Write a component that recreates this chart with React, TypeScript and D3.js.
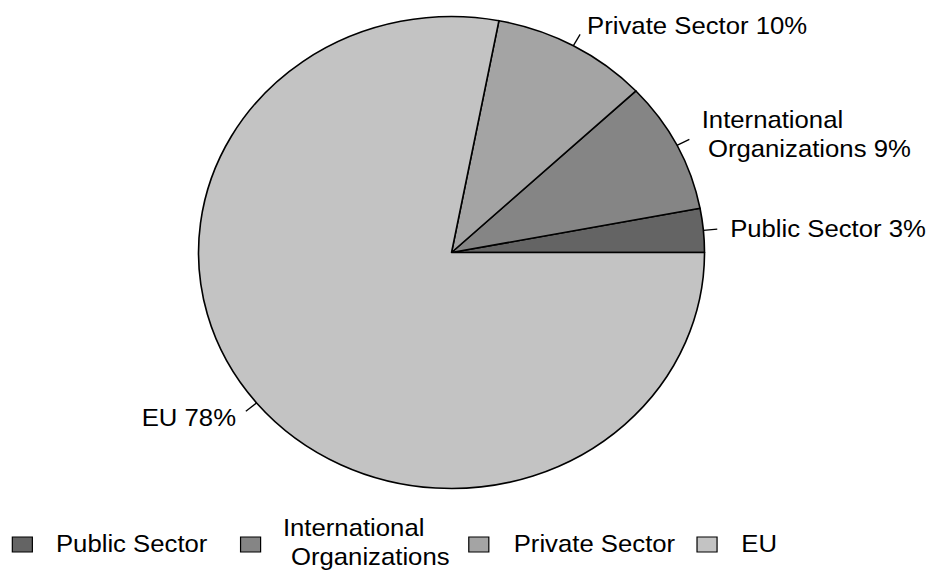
import React from "react";
import * as d3 from "d3";

const categories = ["Public Sector", "International Organizations", "Private Sector", "EU"];
const values = [3, 9, 10, 78];
const labelLines = [["Public Sector 3%"], ["International", "Organizations 9%"], ["Private Sector 10%"], ["EU 78%"]];
const legendLines = [["Public Sector"], ["International", "Organizations"], ["Private Sector"], ["EU"]];
const colors = ["#646464", "#858585", "#a4a4a4", "#c3c3c3"];

// layout/style (not data)
const W = 929, H = 570;
const SX = 1.072; // horizontal stretch of the original image
const CX = 421.2, CY = 252.5, R = 236, R_OUT = 249;
const FONT = "'Liberation Sans', Arial, Helvetica, sans-serif";
const labelOffsets = [
  { anchor: "start", lines: [{ dx: 12, dy: 8 }] },
  { anchor: "start", lines: [{ dx: 11.5, dy: -11.5 }, { dx: 17.3, dy: 17.5 }] },
  { anchor: "start", lines: [{ dx: 6.5, dy: -0.3 }] },
  { anchor: "end", lines: [{ dx: -9.2, dy: 14.8 }] },
];
const legendLineOffsets = [
  [{ dx: 40.7, dy: 0 }],
  [{ dx: 39.5, dy: -15.5 }, { dx: 47, dy: 13.5 }],
  [{ dx: 41.9, dy: 0 }],
  [{ dx: 41.3, dy: 0 }],
];

export default function App() {
  const pie = d3
    .pie<number>()
    .sort(null)
    .startAngle(Math.PI / 2)
    .endAngle(Math.PI / 2 - 2 * Math.PI);
  const arcs = pie(values);
  const arc = d3.arc<d3.PieArcDatum<number>>().innerRadius(0).outerRadius(R);
  const arcIn = d3.arc<any>().innerRadius(R).outerRadius(R);
  const arcOut = d3.arc<any>().innerRadius(R_OUT).outerRadius(R_OUT);

  const legendX = d3.scaleLinear().domain([0, 1]).range([11.5, 11.5 + 212.9]);
  const legendY = 537;

  return (
    <svg
      width={W}
      height={H}
      style={{ position: "absolute", left: 0, top: 0, background: "#fff" }}
      fontFamily={FONT}
    >
      <g transform={`scale(${SX},1)`}>
        <g transform={`translate(${CX},${CY})`}>
          {arcs.map((a, i) => (
            <path
              key={i}
              d={arc(a) || ""}
              fill={colors[i]}
              stroke="#000"
              strokeWidth={1.6}
              strokeLinejoin="round"
              vectorEffect="non-scaling-stroke"
            />
          ))}
          {arcs.map((a, i) => {
            const p0 = arcIn.centroid(a);
            const p1 = arcOut.centroid(a);
            const off = labelOffsets[i];
            return (
              <g key={"l" + i}>
                <line
                  x1={p0[0]}
                  y1={p0[1]}
                  x2={p1[0]}
                  y2={p1[1]}
                  stroke="#000"
                  strokeWidth={1.3}
                  vectorEffect="non-scaling-stroke"
                />
                {labelLines[i].map((t, j) => (
                  <text
                    key={j}
                    x={p1[0] + off.lines[j].dx}
                    y={p1[1] + off.lines[j].dy}
                    fontSize={24}
                    textAnchor={off.anchor}
                    fill="#000"
                  >
                    {t}
                  </text>
                ))}
              </g>
            );
          })}
        </g>
        {categories.map((c, i) => {
          const x = legendX(i);
          return (
            <g key={"lg" + i}>
              <rect
                x={x}
                y={legendY}
                width={18.7}
                height={15}
                fill={colors[i]}
                stroke="#000"
                strokeWidth={1.2}
                vectorEffect="non-scaling-stroke"
              />
              {legendLines[i].map((t, j) => (
                <text
                  key={j}
                  x={x + legendLineOffsets[i][j].dx}
                  y={552 + legendLineOffsets[i][j].dy}
                  fontSize={24}
                  fill="#000"
                >
                  {t}
                </text>
              ))}
            </g>
          );
        })}
      </g>
    </svg>
  );
}
